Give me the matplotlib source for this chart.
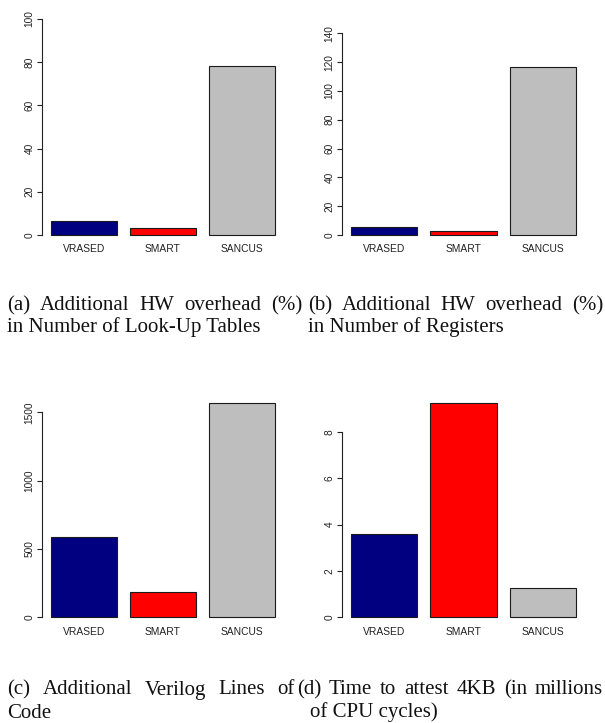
import matplotlib
matplotlib.use("Agg")
import matplotlib.pyplot as plt

W, H = 605, 723
DPI = 100

categories = ["VRASED", "SMART", "SANCUS"]
colors = ["#000080", "#FF0000", "#BEBEBE"]

lut_overhead = [6.6, 3.4, 78.4]
reg_overhead = [5.3, 2.8, 116.8]
verilog_lines = [590, 183, 1566]
attest_time = [3.60, 9.22, 1.28]

ticks_a = [0, 20, 40, 60, 80, 100]
ticks_b = [0, 20, 40, 60, 80, 100, 120, 140]
ticks_c = [0, 500, 1000, 1500]
ticks_d = [0, 2, 4, 6, 8]

captions = {
    "a": ("(a) Additional HW overhead (%)", "in Number of Look-Up Tables"),
    "b": ("(b) Additional HW overhead (%)", "in Number of Registers"),
    "c": ("(c) Additional Verilog Lines of", "Code"),
    "d": ("(d) Time to attest 4KB (in millions", "of CPU cycles)"),
}

fig = plt.figure(figsize=(W / DPI, H / DPI), dpi=DPI)
fig.patch.set_facecolor("white")

SANS = ["Liberation Sans", "DejaVu Sans"]
SERIF = ["Liberation Serif", "DejaVu Serif"]


def px_axes(left, top, right, bottom):
    return fig.add_axes([left / W, 1 - bottom / H, (right - left) / W, (bottom - top) / H])


def panel(box, values, ticks, ymax_fixed=None):
    ax = px_axes(*box)
    xs = [0.7, 1.9, 3.1]
    ax.bar(xs, values, width=1.0, color=colors, edgecolor="#1a1a1a", linewidth=0.8)
    top = max(values) if ymax_fixed is None else ymax_fixed
    ext = 0.04 * top
    ax.set_ylim(-ext, top + ext)
    ax.set_xlim(0.064, 3.736)
    for s in ["top", "right", "bottom"]:
        ax.spines[s].set_visible(False)
    ax.spines["left"].set_bounds(ticks[0], ticks[-1])
    ax.spines["left"].set_linewidth(0.8)
    ax.spines["left"].set_color("#222222")
    ax.set_yticks(ticks)
    ax.set_yticklabels([str(t) for t in ticks], rotation=90, va="center",
                       family=SANS, fontsize=7.3, color="#222222")
    ax.tick_params(axis="y", length=3.5, width=0.8, pad=2, color="#222222")
    ax.set_xticks(xs)
    ax.set_xticklabels(categories, family=SANS, fontsize=7.4, color="#222222")
    ax.tick_params(axis="x", length=0, pad=0.5)
    ax.set_facecolor("white")
    return ax


panel((42, 10.4, 284, 243.6), lut_overhead, ticks_a, ymax_fixed=100)
panel((342, 25.3, 585, 243.0), reg_overhead, ticks_b, ymax_fixed=140)
panel((42, 394.7, 284, 625.9), verilog_lines, ticks_c)
panel((342, 394.8, 585, 625.9), attest_time, ticks_d)

renderer = fig.canvas.get_renderer()
CAP_FS = 15.0


def put_line(text, x0, y, x1=None):
    if x1 is None:
        fig.text(x0 / W, 1 - y / H, text, family=SERIF, fontsize=CAP_FS,
                 va="baseline", ha="left", color="#111111")
        return
    words = text.split(" ")
    widths = []
    for w_ in words:
        t = fig.text(0, 0, w_, family=SERIF, fontsize=CAP_FS)
        bb = t.get_window_extent(renderer=renderer)
        widths.append(bb.width)
        t.remove()
    gap = (x1 - x0 - sum(widths)) / (len(words) - 1)
    x = x0
    for w_, wd in zip(words, widths):
        fig.text(x / W, 1 - y / H, w_, family=SERIF, fontsize=CAP_FS,
                 va="baseline", ha="left", color="#111111")
        x += wd + gap


put_line(captions["a"][0], 7, 310, 302)
put_line(captions["a"][1], 7, 332)
put_line(captions["b"][0], 308, 310, 603)
put_line(captions["b"][1], 308, 332)
put_line(captions["c"][0], 7, 694.5, 295)
put_line(captions["c"][1], 7, 717.5)
put_line(captions["d"][0], 297, 694.5, 603)
put_line(captions["d"][1], 310, 717.5)

fig.savefig("out.png", dpi=DPI, facecolor="white")
